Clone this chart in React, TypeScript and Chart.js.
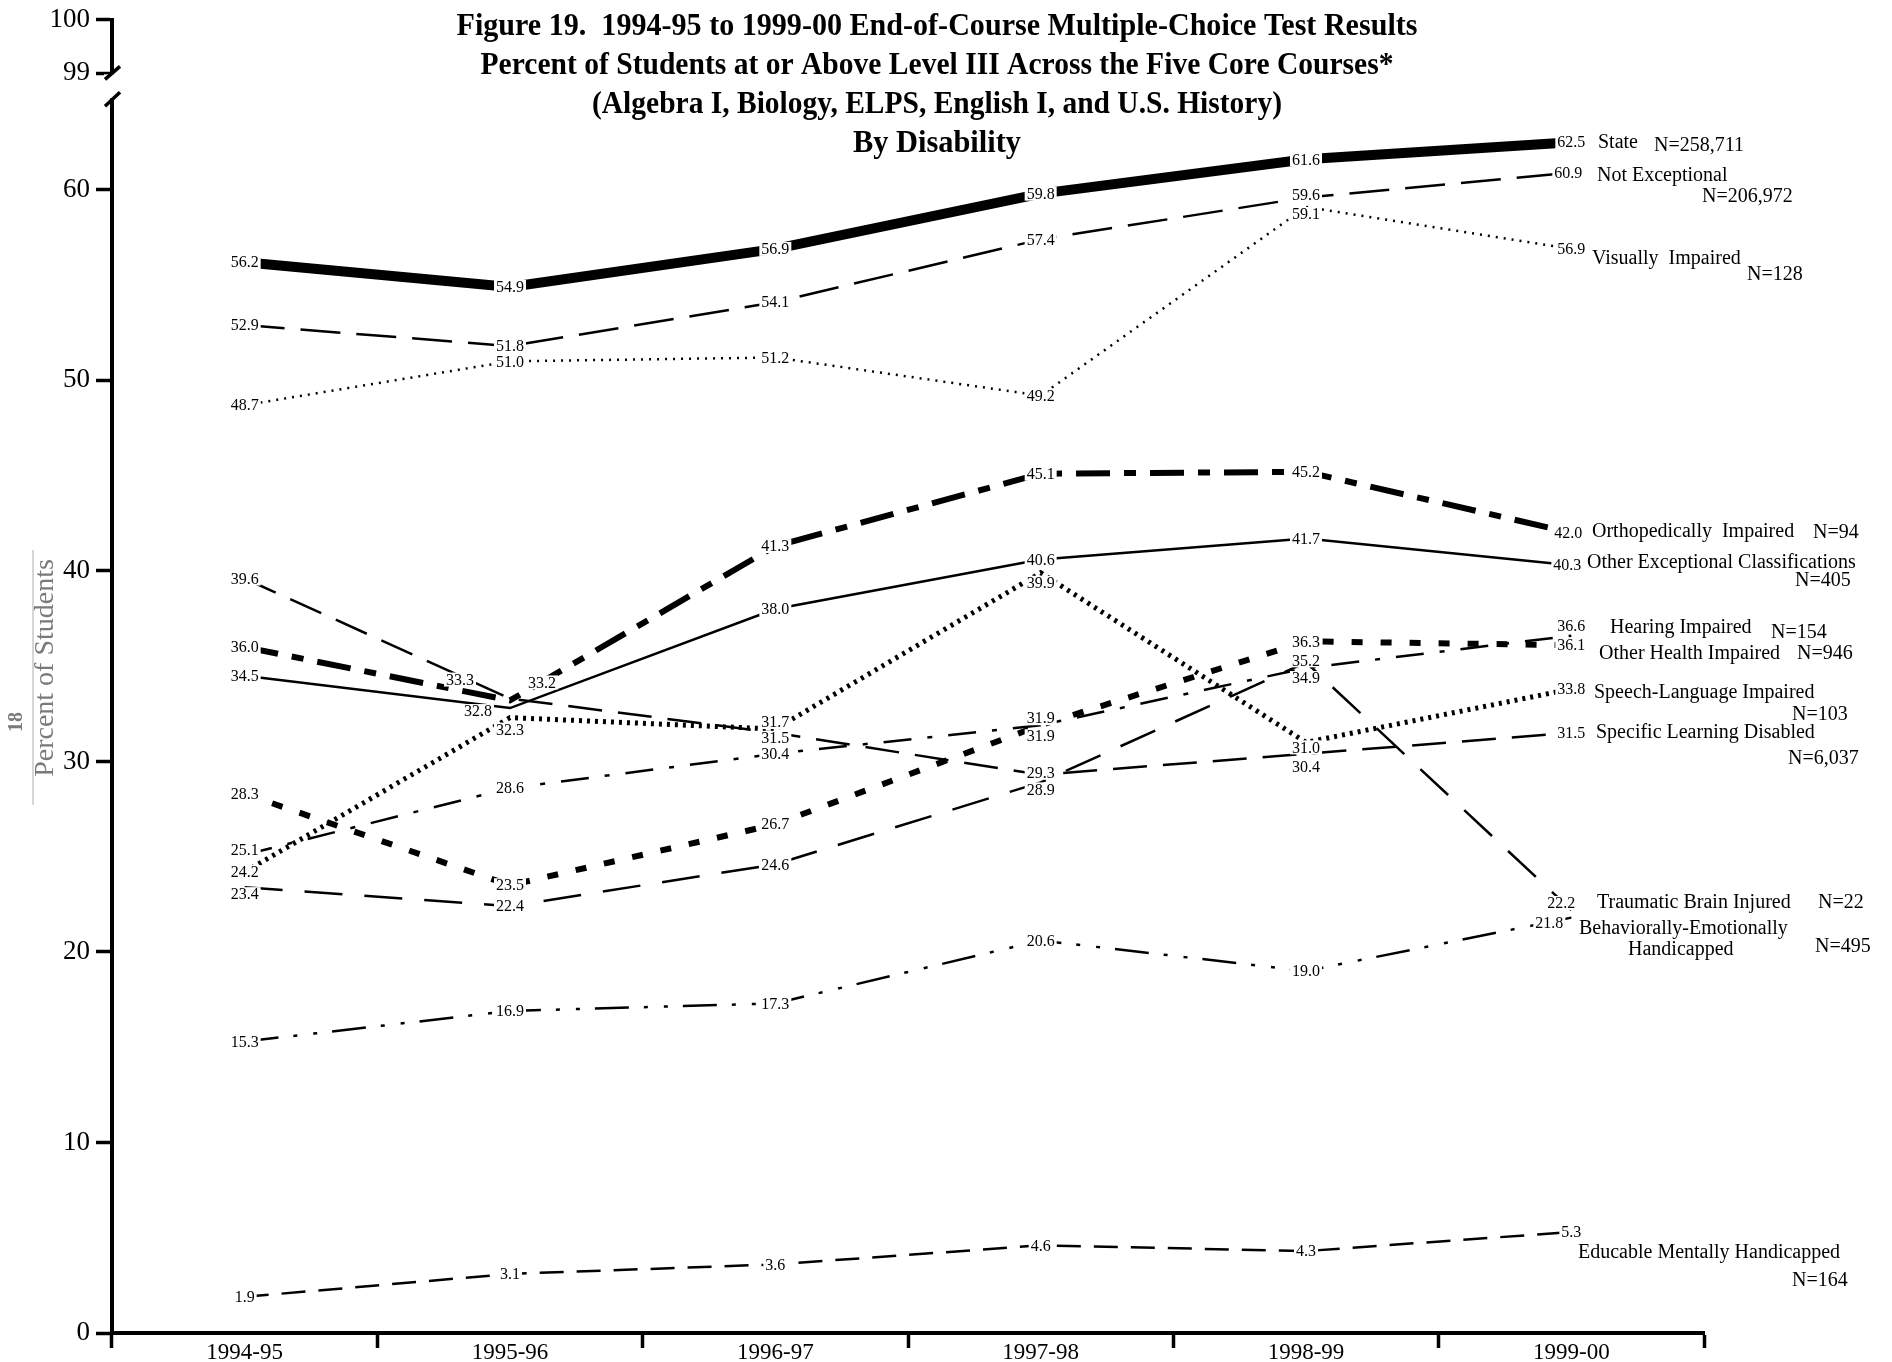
import React, { useEffect, useRef } from "react";
import { Chart, registerables } from "chart.js";

Chart.register(...registerables);

// ---------- DATA ----------
const years = ["1994-95", "1995-96", "1996-97", "1997-98", "1998-99", "1999-00"];

const state = [56.2, 54.9, 56.9, 59.8, 61.6, 62.5];
const notExceptional = [52.9, 51.8, 54.1, 57.4, 59.6, 60.9];
const visuallyImpaired = [48.7, 51.0, 51.2, 49.2, 59.1, 56.9];
const orthopedicallyImpaired = [36.0, 33.2, 41.3, 45.1, 45.2, 42.0];
const otherExceptional = [34.5, 32.8, 38.0, 40.6, 41.7, 40.3];
const hearingImpaired = [25.1, 28.6, 30.4, 31.9, 34.9, 36.6];
const otherHealthImpaired = [28.3, 23.5, 26.7, 31.9, 36.3, 36.1];
const speechLanguage = [24.2, 32.3, 31.7, 39.9, 31.0, 33.8];
const specificLearning = [39.6, 33.3, 31.5, 29.3, 30.4, 31.5];
const traumaticBrain = [23.4, 22.4, 24.6, 28.9, 35.2, 22.2];
const behaviorallyEmotionally = [15.3, 16.9, 17.3, 20.6, 19.0, 21.8];
const educableMentally = [1.9, 3.1, 3.6, 4.6, 4.3, 5.3];

const yTicksMain = [0, 10, 20, 30, 40, 50, 60];
const yTicksTop = [99, 100];

const titleLines = [
  "Figure 19.  1994-95 to 1999-00 End-of-Course Multiple-Choice Test Results",
  "Percent of Students at or Above Level III Across the Five Core Courses*",
  "(Algebra I, Biology, ELPS, English I, and U.S. History)",
  "By Disability",
];
const yAxisTitle = "Percent of Students";
const pageNumber = "18";

// ---------- STYLES / ANNOTATIONS ----------
type Nudge = { [i: number]: [number, number] };
type SideText = { t: string; x: number; dy: number };
type SeriesStyle = {
  data: number[];
  width: number;
  dash: number[];
  nudge?: Nudge;
  side: SideText[];
};

const series: SeriesStyle[] = [
  { data: state, width: 10, dash: [], side: [{ t: "State", x: 1598, dy: 1 }, { t: "N=258,711", x: 1654, dy: 4 }] },
  { data: notExceptional, width: 2.5, dash: [40, 16], nudge: { 4: [0, -3], 5: [-3, 0] }, side: [{ t: "Not Exceptional", x: 1597, dy: 3 }, { t: "N=206,972", x: 1702, dy: 24 }] },
  { data: visuallyImpaired, width: 2.5, dash: [2, 6], nudge: { 4: [0, 7] }, side: [{ t: "Visually  Impaired", x: 1592, dy: 10 }, { t: "N=128", x: 1747, dy: 26 }] },
  { data: orthopedicallyImpaired, width: 6, dash: [34, 14, 12, 14], nudge: { 1: [32, -18], 5: [-3, 0] }, side: [{ t: "Orthopedically  Impaired", x: 1592, dy: -1 }, { t: "N=94", x: 1813, dy: 0 }] },
  { data: otherExceptional, width: 2.5, dash: [], nudge: { 1: [-32, 3], 5: [-4, 0] }, side: [{ t: "Other Exceptional Classifications", x: 1587, dy: -2 }, { t: "N=405", x: 1795, dy: 16 }] },
  { data: hearingImpaired, width: 2.5, dash: [28, 16, 5, 16], nudge: { 0: [0, -5], 3: [0, 11], 4: [0, 10], 5: [0, -10] }, side: [{ t: "Hearing Impaired", x: 1610, dy: -8 }, { t: "N=154", x: 1771, dy: -3 }] },
  { data: otherHealthImpaired, width: 6, dash: [11, 18], nudge: { 3: [0, -7] }, side: [{ t: "Other Health Impaired", x: 1599, dy: 9 }, { t: "N=946", x: 1797, dy: 9 }] },
  { data: speechLanguage, width: 5, dash: [3, 5], nudge: { 1: [0, 12], 2: [0, -7], 3: [0, 10], 4: [0, 5] }, side: [{ t: "Speech-Language Impaired", x: 1594, dy: 4 }, { t: "N=103", x: 1792, dy: 26 }] },
  { data: specificLearning, width: 2.5, dash: [34, 16], nudge: { 1: [-50, -19], 2: [0, 5], 3: [0, -2], 4: [0, 13] }, side: [{ t: "Specific Learning Disabled", x: 1596, dy: 0 }, { t: "N=6,037", x: 1788, dy: 26 }] },
  { data: traumaticBrain, width: 2.5, dash: [38, 22], nudge: { 0: [0, 7], 3: [0, 7], 4: [0, -2], 5: [-10, -7] }, side: [{ t: "Traumatic Brain Injured", x: 1597, dy: -7 }, { t: "N=22", x: 1818, dy: -7 }] },
  { data: behaviorallyEmotionally, width: 2.5, dash: [34, 15, 4, 16, 4, 15], nudge: { 5: [-22, 5] }, side: [{ t: "Behaviorally-Emotionally", x: 1579, dy: 11 }, { t: "Handicapped", x: 1628, dy: 32 }, { t: "N=495", x: 1815, dy: 29 }] },
  { data: educableMentally, width: 2.5, dash: [24, 13], side: [{ t: "Educable Mentally Handicapped", x: 1578, dy: 21 }, { t: "N=164", x: 1792, dy: 49 }] },
];

const SERIF = "'Liberation Serif', 'Times New Roman', serif";
const titleWidths = [961, 913, 690, 168];
const titleYs = [27, 66, 105, 144];

const decorPlugin = {
  id: "decor",
  afterDatasetsDraw(chart: any) {
    const ctx = chart.ctx as CanvasRenderingContext2D;
    ctx.save();
    // value labels with white boxes
    ctx.font = `16px ${SERIF}`;
    ctx.textAlign = "center";
    ctx.textBaseline = "middle";
    series.forEach((s, di) => {
      const meta = chart.getDatasetMeta(di);
      meta.data.forEach((pt: any, i: number) => {
        const n = (s.nudge && s.nudge[i]) || [0, 0];
        const x = pt.x + n[0];
        const y = pt.y + n[1];
        const txt = s.data[i].toFixed(1);
        const w = ctx.measureText(txt).width;
        ctx.fillStyle = "#fff";
        ctx.fillRect(x - w / 2 - 2, y - 7, w + 4, 14);
        ctx.fillStyle = "#000";
        ctx.fillText(txt, x, y + 1);
      });
    });
    // series names at right
    ctx.font = `20px ${SERIF}`;
    ctx.textAlign = "left";
    series.forEach((s, di) => {
      const meta = chart.getDatasetMeta(di);
      const last = meta.data[meta.data.length - 1];
      s.side.forEach((st) => {
        ctx.fillStyle = "#000";
        ctx.fillText(st.t, st.x, last.y + st.dy);
      });
    });
    ctx.restore();
  },
  afterDraw(chart: any) {
    const ctx = chart.ctx as CanvasRenderingContext2D;
    const ax = chart.chartArea.left;
    ctx.save();
    // title
    ctx.fillStyle = "#000";
    ctx.font = `bold 31px ${SERIF}`;
    ctx.textAlign = "center";
    ctx.textBaseline = "middle";
    titleLines.forEach((t, i) => ctx.fillText(t, 937, titleYs[i], titleWidths[i]));

    // axis break
    const yb1 = chart.scales.yTop.getPixelForValue(99);
    const yb2 = chart.scales.y.top;
    ctx.fillStyle = "#fff";
    ctx.fillRect(ax - 8, yb1 + 1, 16, yb2 - yb1 - 3);
    ctx.strokeStyle = "#000";
    ctx.lineWidth = 3.5;
    ctx.beginPath();
    ctx.moveTo(ax - 7, yb1 + 6);
    ctx.lineTo(ax + 8, yb1 - 7);
    ctx.moveTo(ax - 7, yb2 + 6);
    ctx.lineTo(ax + 8, yb2 - 8);
    ctx.stroke();

    // y-axis title, page number and rule
    ctx.strokeStyle = "#c8c8c8";
    ctx.lineWidth = 1.5;
    ctx.beginPath();
    ctx.moveTo(33, 550);
    ctx.lineTo(33, 805);
    ctx.stroke();
    ctx.fillStyle = "#7a7a7a";
    ctx.translate(46, 668);
    ctx.rotate(-Math.PI / 2);
    ctx.font = `28px ${SERIF}`;
    ctx.fillText(yAxisTitle, 0, 0);
    ctx.restore();
    ctx.save();
    ctx.fillStyle = "#7a7a7a";
    ctx.translate(17, 722);
    ctx.rotate(-Math.PI / 2);
    ctx.font = `bold 20px ${SERIF}`;
    ctx.textAlign = "center";
    ctx.textBaseline = "middle";
    ctx.fillText(pageNumber, 0, 0);
    ctx.restore();
  },
};

export default function App() {
  const ref = useRef<HTMLCanvasElement | null>(null);
  useEffect(() => {
    if (!ref.current) return;
    const tickFont = { family: SERIF, size: 27, lineHeight: 1 };
    const chart = new Chart(ref.current, {
      type: "line",
      data: {
        labels: years,
        datasets: series.map((s) => ({
          data: s.data,
          borderColor: "#000",
          borderWidth: s.width,
          borderDash: s.dash,
          borderCapStyle: "butt",
          borderJoinStyle: "miter",
          pointRadius: 0,
          pointHoverRadius: 0,
          fill: false,
          tension: 0,
          yAxisID: "y",
        })),
      },
      options: {
        responsive: false,
        devicePixelRatio: 1,
        animation: false,
        events: [],
        layout: { padding: { left: 0, right: 188, top: 16, bottom: 0 } },
        plugins: { legend: { display: false }, tooltip: { enabled: false }, title: { display: false } },
        scales: {
          y: {
            type: "linear",
            position: "left",
            stack: "left",
            stackWeight: 1236,
            min: 0,
            max: 64.7,
            afterBuildTicks: (sc: any) => { sc.ticks = yTicksMain.map((v) => ({ value: v })); },
            afterFit: (sc: any) => { sc.width = 112; },
            border: { display: true, color: "#000", width: 4 },
            grid: { drawOnChartArea: false, drawTicks: true, tickLength: 16, tickWidth: 3.5, tickColor: "#000" },
            ticks: { color: "#000", padding: 6, font: tickFont },
          },
          yTop: {
            type: "linear",
            position: "left",
            stack: "left",
            stackWeight: 81,
            min: 98.5,
            max: 100,
            afterBuildTicks: (sc: any) => { sc.ticks = yTicksTop.map((v) => ({ value: v })); },
            afterFit: (sc: any) => { sc.width = 112; },
            border: { display: true, color: "#000", width: 4 },
            grid: { drawOnChartArea: false, drawTicks: true, tickLength: 16, tickWidth: 3.5, tickColor: "#000" },
            ticks: { color: "#000", padding: 6, font: tickFont },
          },
          x: {
            type: "category",
            offset: true,
            afterFit: (sc: any) => { sc.height = 29; },
            border: { display: true, color: "#000", width: 4 },
            grid: { offset: true, drawOnChartArea: false, drawTicks: true, tickLength: 15, tickWidth: 3.5, tickColor: "#000" },
            ticks: { color: "#000", padding: -9, autoSkip: false, maxRotation: 0, font: { family: SERIF, size: 23, lineHeight: 1.2 } },
          },
        },
      },
      plugins: [decorPlugin],
    } as any);
    return () => chart.destroy();
  }, []);
  return (
    <div style={{ position: "fixed", left: 0, top: 0, width: 1892, height: 1362, background: "#fff" }}>
      <canvas ref={ref} width={1892} height={1362} style={{ display: "block", width: 1892, height: 1362 }} />
    </div>
  );
}
